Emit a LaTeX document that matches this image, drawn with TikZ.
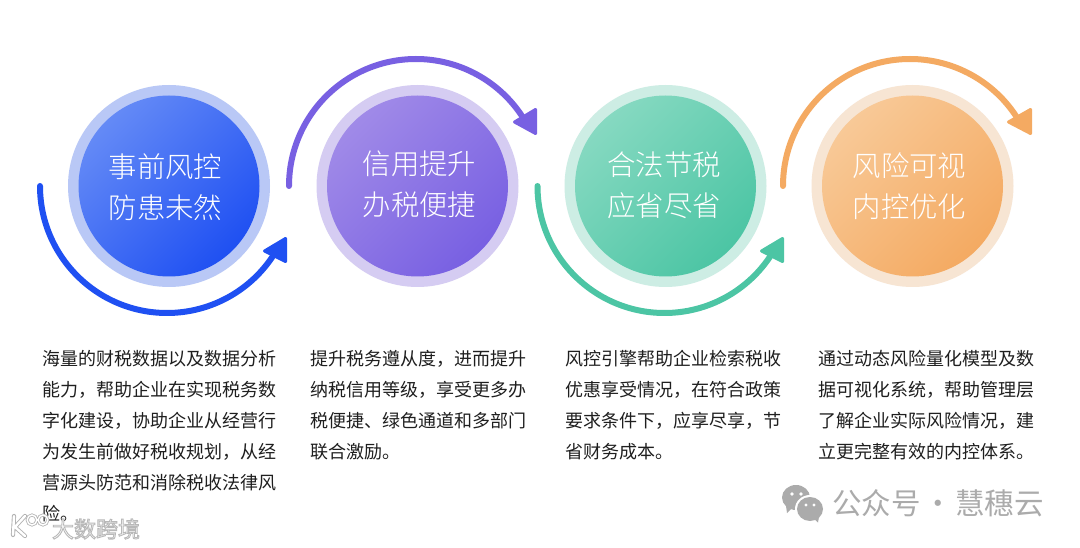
\documentclass[tikz,border=0pt]{standalone}
\usepackage{fontspec}
\setmainfont{Noto Sans CJK SC}
\newfontfamily\cjklight[UprightFont=* Light]{Noto Sans CJK SC}
\definecolor{bluea}{HTML}{648AF6}\definecolor{blueb}{HTML}{1F50F2}\definecolor{bluer}{HTML}{B9C8F6}
\definecolor{purpa}{HTML}{A08AE8}\definecolor{purpb}{HTML}{7860E2}\definecolor{purpr}{HTML}{D5CCF2}
\definecolor{greea}{HTML}{86D9C1}\definecolor{greeb}{HTML}{4CC5A4}\definecolor{greer}{HTML}{CDEDE4}
\definecolor{orana}{HTML}{F8C997}\definecolor{oranb}{HTML}{F4AA62}\definecolor{oranr}{HTML}{F7E5D3}
\definecolor{markgray}{HTML}{ABABAB}
\tikzset{
  x=1pt,y=1pt,
  ring/.style={circle,minimum size=202pt,inner sep=0pt},
  disc/.style 2 args={circle,minimum size=181pt,inner sep=0pt,left color=#1,right color=#2,shading angle=45},
  title/.style={inner sep=0pt,text=white,align=center,font=\cjklight\fontsize{28.4}{41}\selectfont},
  sweep/.style={line width=6pt,line cap=round},
  head/.style={line width=3pt,line join=round},
  body/.style={anchor=north west,align=left,inner sep=0pt,text=black!88,font=\fontsize{18}{31}\selectfont},
  stamp/.style={text=markgray,font=\fontsize{29.5}{32}\selectfont,inner sep=0pt},
}
\begin{document}
\begin{tikzpicture}
\useasboundingbox (0,0) rectangle (1080,547);
\fill[white] (0,0) rectangle (1080,547);
% discs
\node[ring,fill=bluer] (r1) at (169,361) {};
\node[ring,fill=purpr] (r2) at (417.5,361) {};
\node[ring,fill=greer] (r3) at (665.5,361) {};
\node[ring,fill=oranr] (r4) at (912.5,361) {};
\node[disc={bluea}{blueb}] (c1) at (r1) {};
\node[disc={purpa}{purpb}] (c2) at (r2) {};
\node[disc={greea}{greeb}] (c3) at (r3) {};
\node[disc={orana}{oranb}] (c4) at (r4) {};
\node[title] (l1) at (165.5,360) {事前风控\\防患未然};
\node[title] (l2) at (419.5,362.5) {信用提升\\办税便捷};
\node[title] (l3) at (664,361.5) {合法节税\\应省尽省};
\node[title] (l4) at (909.5,361) {风险可视\\内控优化};
% sweeps
\coordinate (a1) at (167,361);
\coordinate (a2) at (416,361);
\coordinate (a3) at (664.5,361);
\coordinate (a4) at (910,361);
\draw[sweep,blueb] (a1) ++(180:127) arc[start angle=180,end angle=328,radius=127];
\draw[sweep,purpb] (a2) ++(180:127) arc[start angle=180,end angle=32,radius=127];
\draw[sweep,greeb] (a3) ++(180:127) arc[start angle=180,end angle=328,radius=127];
\draw[sweep,oranb] (a4) ++(180:127) arc[start angle=180,end angle=32,radius=127];
% heads
\fill[blueb,draw=blueb,head] (264.5,296) -- (285.5,308.5) -- (285.5,285.5) -- cycle;
\fill[purpb,draw=purpb,head] (514.5,425) -- (535.5,437.5) -- (535.5,413.5) -- cycle;
\fill[greeb,draw=greeb,head] (761.5,296) -- (782.5,308.5) -- (782.5,285.5) -- cycle;
\fill[oranb,draw=oranb,head] (1008.5,425) -- (1030.5,437.5) -- (1030.5,413.5) -- cycle;
% body text
\node[body] (t1) at (42,197) {海量的财税数据以及数据分析\\能力，帮助企业在实现税务数\\字化建设，协助企业从经营行\\为发生前做好税收规划，从经\\营源头防范和消除税收法律风\\险。};
\node[body] (t2) at (310,197) {提升税务遵从度，进而提升\\纳税信用等级，享受更多办\\税便捷、绿色通道和多部门\\联合激励。};
\node[body] (t3) at (565,197) {风控引擎帮助企业检索税收\\优惠享受情况，在符合政策\\要求条件下，应享尽享，节\\省财务成本。};
\node[body] (t4) at (818,197) {通过动态风险量化模型及数\\据可视化系统，帮助管理层\\了解企业实际风险情况，建\\立更完整有效的内控体系。};
% wechat mark
\fill[markgray] (796,49.5) ellipse (14 and 12.5);
\fill[markgray] (786,41) -- (792,39) -- (787,34) -- cycle;
\fill[white] (810,38) ellipse (15 and 14);
\fill[markgray] (810,38) ellipse (13 and 12);
\fill[markgray] (813,29) -- (819,30) -- (818,24.5) -- cycle;
\fill[white] (792,53) circle (1.9) (801,53) circle (1.9) (806,42) circle (1.7) (814,42) circle (1.7);
\node[stamp,anchor=west] (w) at (832,44) {公众号\kern-4pt{} · \kern-4pt{}慧穗云};
% bottom left watermark
\node[inner sep=0pt,text=white,font=\fontsize{22}{24}\selectfont] (d) at (96,18) {\special{pdf:code 2 Tr 0.9 w 0.72 G}大数跨境\special{pdf:code 0 Tr 0 G}};
\draw[black!30,line width=4.2pt,line cap=round] (14,31) -- (13,12) (15,20) -- (25,31) (15,20) -- (25,11);
\draw[white,line width=2.4pt,line cap=round] (14,31) -- (13,12) (15,20) -- (25,31) (15,20) -- (25,11);
\draw[black!30,line width=3pt] (32,27) ellipse (4.8 and 5) (43,27) ellipse (4.8 and 5);
\draw[white,line width=1.4pt] (32,27) ellipse (4.8 and 5) (43,27) ellipse (4.8 and 5);
\end{tikzpicture}
\end{document}
